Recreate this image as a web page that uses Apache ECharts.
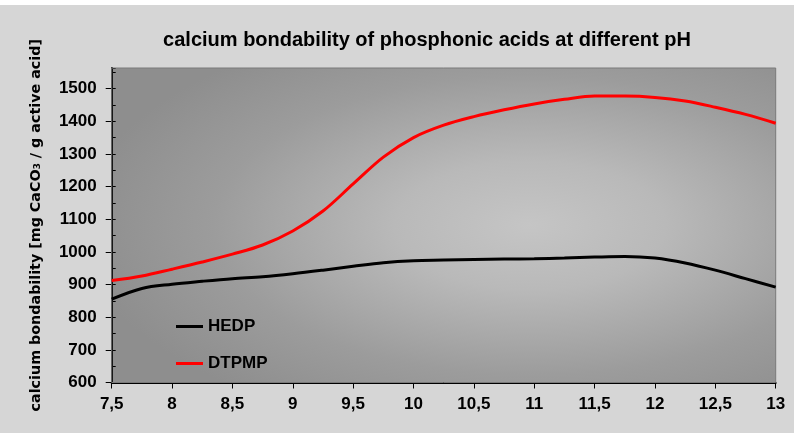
<!DOCTYPE html>
<html>
<head>
<meta charset="utf-8">
<script src="https://cdn.jsdelivr.net/npm/echarts@6/dist/echarts.min.js"></script>
<style>
html,body{margin:0;padding:0;background:#ffffff;}
#bg{position:absolute;left:0;top:5px;width:794px;height:428px;background:#d6d6d6;}
#chart{position:absolute;left:0;top:0;width:801px;height:436px;}
</style>
</head>
<body>
<div id="bg"></div>
<div id="chart"></div>
<script>
var titleText = 'calcium bondability of phosphonic acids at different pH';
var yAxisName = 'calcium bondability [mg CaCO\u2083 / g active acid]';
var seriesNames = ['HEDP', 'DTPMP'];
var phValues = [7.5, 7.75, 8, 8.25, 8.5, 8.75, 9, 9.25, 9.5, 9.75, 10, 10.25, 10.5, 10.75, 11, 11.25, 11.5, 11.75, 12, 12.25, 12.5, 12.75, 13];
var hedp = [855, 888, 901, 910, 918, 924, 933, 944, 956, 967, 973, 975, 977, 978, 979, 981, 984, 986, 981, 966, 944, 918, 892];
var dtpmp = [912, 926, 947, 969, 993, 1021, 1064, 1125, 1208, 1290, 1350, 1388, 1414, 1435, 1453, 1467, 1477, 1477, 1473, 1462, 1443, 1421, 1394];
var xMin = 7.5, xMax = 13, xStep = 0.5;
var yMin = 600, yMax = 1563, yStep = 100, yMinorStep = 50;

function pairs(xs, ys) { return xs.map(function (x, i) { return [x, ys[i]]; }); }

var chart = echarts.init(document.getElementById('chart'), null, {renderer: 'canvas'});
var font = 'Liberation Sans, Arial, sans-serif';
var gl = 111.7, gt = 68, gw = 664, gh = 314.5;
chart.setOption({
  animation: false,
  backgroundColor: 'transparent',
  title: {
    text: titleText, left: 422, top: 25, textAlign: 'center',
    textStyle: {fontFamily: font, fontWeight: 'bold', fontSize: 20, color: '#000'}
  },
  graphic: [{
    type: 'rect', x: gl, y: gt, scaleY: gh / gw, z: -10, silent: true,
    shape: {x: 0, y: 0, width: gw, height: gw},
    style: {fill: new echarts.graphic.RadialGradient(0.63, 0.5, 0.68, [
      {offset: 0, color: '#c5c5c5'},
      {offset: 0.3, color: '#b9b9b9'},
      {offset: 0.7, color: '#9c9c9c'},
      {offset: 1, color: '#8e8e8e'}
    ])}
  }],
  grid: {left: gl, top: gt, width: gw, height: gh, show: true, backgroundColor: 'transparent', borderColor: '#7a7a7a', borderWidth: 1, z: 1},
  legend: {
    orient: 'vertical', left: 171, top: 313, itemWidth: 27, itemHeight: 3, itemGap: 20,
    icon: 'rect', data: seriesNames,
    textStyle: {fontFamily: font, fontWeight: 'bold', fontSize: 17, color: '#000'}
  },
  xAxis: {
    type: 'value', min: xMin, max: xMax, interval: xStep,
    axisLine: {lineStyle: {color: '#000', width: 2}},
    axisTick: {show: true, length: 6, lineStyle: {color: '#000', width: 1}},
    splitLine: {show: false},
    axisLabel: {fontFamily: font, fontWeight: 'bold', fontSize: 17, color: '#000', margin: 13,
      formatter: function (v) { return String(v).replace('.', ','); }}
  },
  yAxis: [{
    type: 'value', min: yMin, max: yMax, interval: yStep, position: 'left',
    name: yAxisName, nameLocation: 'middle', nameGap: 68, nameRotate: 90,
    nameTextStyle: {fontFamily: 'DejaVu Sans, sans-serif', fontWeight: 'bold', fontSize: 14.3, color: '#000'},
    axisLine: {show: true, lineStyle: {color: '#000', width: 2}},
    axisTick: {show: true, length: 6, lineStyle: {color: '#000', width: 1}},
    splitLine: {show: false},
    axisLabel: {fontFamily: font, fontWeight: 'bold', fontSize: 17, color: '#000', margin: 15, showMaxLabel: false,
      formatter: function (v) { return String(v); }}
  }, {
    type: 'value', min: yMin, max: yMax, interval: yMinorStep, position: 'left', offset: 0,
    axisLine: {show: false}, axisLabel: {show: false}, splitLine: {show: false},
    axisTick: {show: true, inside: true, length: 4, lineStyle: {color: '#000', width: 1}}
  }],
  series: [{
    name: seriesNames[0], type: 'line', smooth: 0.35, showSymbol: false, yAxisIndex: 0,
    data: pairs(phValues, hedp), lineStyle: {color: '#000', width: 3}, itemStyle: {color: '#000'}, z: 3
  }, {
    name: seriesNames[1], type: 'line', smooth: 0.35, showSymbol: false, yAxisIndex: 0,
    data: pairs(phValues, dtpmp), lineStyle: {color: '#ff0000', width: 3}, itemStyle: {color: '#ff0000'}, z: 3
  }]
});
</script>
</body>
</html>
